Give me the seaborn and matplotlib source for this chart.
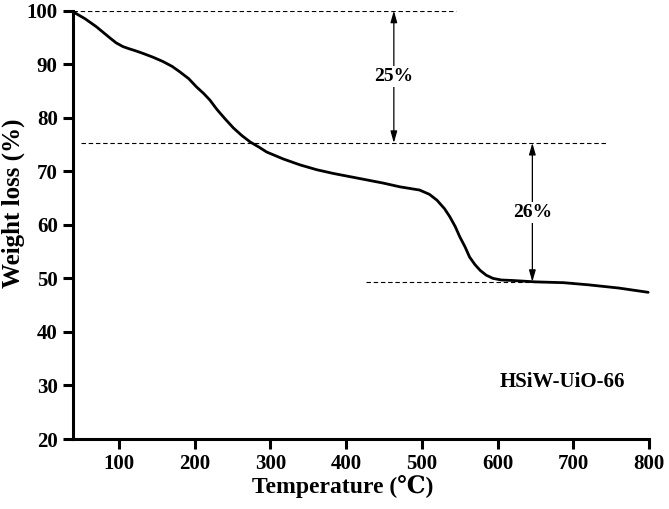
"""
plot.py - TGA curve of HSiW-UiO-66 drawn with seaborn.
"""

import matplotlib
matplotlib.use("Agg")
import matplotlib.pyplot as plt
import seaborn as sns

# Data
temperature = [39, 55, 70, 88, 96, 105, 113, 122, 132, 145, 158, 170, 180, 192,
               202, 212, 220, 229, 240, 251, 262, 273, 285, 295, 317, 339, 361,
               383, 405, 427, 449, 471, 497, 510, 520, 530, 537, 544, 550, 557,
               563, 570, 577, 585, 594, 605, 621, 650, 687, 720, 760, 799]
weight = [99.8, 98.5, 97.0, 94.9, 94.0, 93.3, 92.9, 92.5, 92.0, 91.3, 90.5, 89.6,
          88.6, 87.3, 85.8, 84.5, 83.3, 81.6, 79.8, 78.1, 76.7, 75.5, 74.5, 73.6,
          72.3, 71.2, 70.3, 69.6, 69.0, 68.4, 67.8, 67.1, 66.5, 65.7, 64.6, 63.0,
          61.5, 59.7, 57.8, 55.9, 54.0, 52.6, 51.5, 50.6, 50.0, 49.7, 49.6, 49.35,
          49.2, 48.8, 48.2, 47.4]

# reference levels (dashed) and the step annotations
level_y = [100, 75.3, 49.35]
level_start = [39, 50, 426]
level_end = [545, 744, 700]

step_x = [463, 646]
step_top = [100, 75.3]
step_bottom = [75.3, 49.35]
step_labels = ["25%", "26%"]

x_ticks = [100, 200, 300, 400, 500, 600, 700, 800]
y_ticks = [20, 30, 40, 50, 60, 70, 80, 90, 100]
sample_name = "HSiW-UiO-66"


def main() -> None:
    sns.set_style("ticks")
    plt.rcParams["font.family"] = ["Liberation Serif", "DejaVu Serif"]
    plt.rcParams["font.weight"] = "bold"
    for key in ["text.color", "axes.labelcolor", "xtick.color",
                "ytick.color", "axes.edgecolor"]:
        plt.rcParams[key] = "black"

    fig = plt.figure(figsize=(6.69, 5.09), dpi=100)
    ax = fig.add_axes([0.109, 0.1375, 0.861, 0.8415])

    sns.lineplot(x=temperature, y=weight, ax=ax, color="black", linewidth=2.0,
                 sort=False, clip_on=False)

    # dashed guide lines
    ax.hlines(level_y, level_start, level_end, colors="black",
              linestyles=(0, (4, 2.5)), linewidth=0.8)

    # double headed arrows with the percentages
    for x, top, bot, lab in zip(step_x, step_top, step_bottom, step_labels):
        ax.annotate("", xy=(x, bot), xytext=(x, top),
                    arrowprops=dict(arrowstyle="<|-|>,head_length=0.7,head_width=0.2",
                                    color="black", lw=0.9, shrinkA=0, shrinkB=0))
        ax.text(x, (top + bot) / 2, lab, ha="center", va="center",
                fontsize=14, fontweight="bold",
                bbox=dict(facecolor="white", edgecolor="none", pad=1.5))

    ax.text(686, 30.7, sample_name, ha="center", va="center",
            fontsize=15, fontweight="bold")

    ax.set_xlim(39, 800)
    ax.set_ylim(20, 100)
    ax.set_xticks(x_ticks)
    ax.set_yticks(y_ticks)
    ax.tick_params(axis="both", direction="out", length=7, width=2.2,
                   labelsize=15, pad=4)
    for lab in ax.get_xticklabels() + ax.get_yticklabels():
        lab.set_fontweight("bold")

    sns.despine(ax=ax)
    for side in ["left", "bottom"]:
        ax.spines[side].set_linewidth(2.2)

    ax.set_xlabel("Temperature (℃)", fontsize=17, fontweight="bold")
    ax.set_ylabel("Weight loss (%)", fontsize=18, fontweight="bold")
    ax.xaxis.set_label_coords(0.468, -0.083)
    ax.yaxis.set_label_coords(-0.083, 0.55)

    fig.savefig("out.png", dpi=100)


if __name__ == "__main__":
    main()
